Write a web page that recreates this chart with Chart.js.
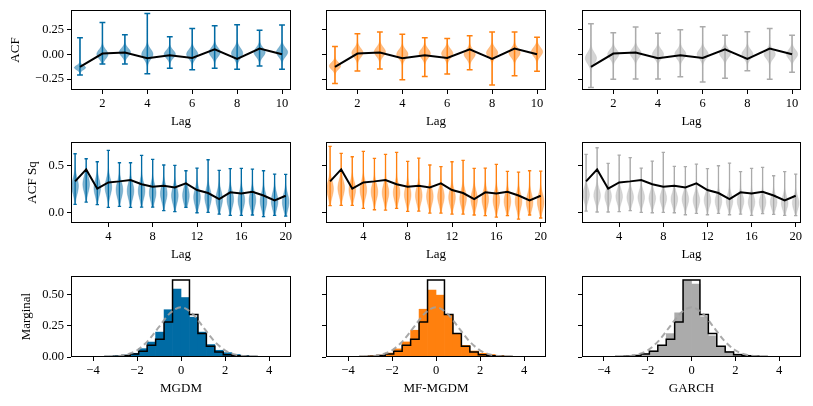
<!DOCTYPE html>
<html><head><meta charset="utf-8">
<script src="https://cdn.jsdelivr.net/npm/chart.js@4.4.1/dist/chart.umd.min.js"></script>
<style>
html,body{margin:0;padding:0;background:#fff;}
body{width:813px;height:406px;position:relative;overflow:hidden;}
canvas{position:absolute;}
</style></head><body>
<script>
// ---------------- DATA ----------------
const models = ['MGDM', 'MF-MGDM', 'GARCH'];
const modelColors = ['#006BA4', '#FF800E', '#ABABAB'];

// Row 1: ACF
const acfLags = [1, 2, 3, 4, 5, 6, 7, 8, 9, 10];
const acfData = [-0.128, 0.007, 0.017, -0.04, -0.01, -0.037, 0.05, -0.047, 0.057, 0.0];
const acfMinMGDM = [-0.21, -0.098, -0.098, -0.196, -0.142, -0.155, -0.142, -0.152, -0.118, -0.152];
const acfMaxMGDM = [0.166, 0.32, 0.196, 0.41, 0.176, 0.26, 0.287, 0.297, 0.24, 0.294];
const acfMidMGDM = [-0.135, 0.0, 0.02, 0.0, 0.0, 0.0, 0.02, 0.01, 0.02, 0.02];
const acfSprMGDM = [0.022, 0.045, 0.04, 0.05, 0.04, 0.045, 0.045, 0.05, 0.045, 0.045];
const acfMinMF = [-0.294, -0.169, -0.149, -0.257, -0.223, -0.2, -0.155, -0.31, -0.216, -0.172];
const acfMaxMF = [0.078, 0.206, 0.223, 0.2, 0.166, 0.159, 0.186, 0.223, 0.223, 0.172];
const acfMidMF = [-0.118, 0.014, 0.024, 0.0, 0.007, 0.007, 0.0, 0.014, 0.014, 0.024];
const acfSprMF = [0.035, 0.045, 0.045, 0.045, 0.045, 0.045, 0.045, 0.045, 0.045, 0.045];
const acfMinGARCH = [-0.334, -0.253, -0.25, -0.25, -0.226, -0.28, -0.243, -0.166, -0.253, -0.182];
const acfMaxGARCH = [0.307, 0.216, 0.274, 0.21, 0.247, 0.277, 0.19, 0.226, 0.26, 0.19];
const acfMidGARCH = [-0.04, 0.0, 0.01, 0.0, 0.0, 0.0, 0.01, 0.0, 0.0, 0.0];
const acfSprGARCH = [0.055, 0.045, 0.045, 0.045, 0.045, 0.045, 0.045, 0.045, 0.045, 0.045];

// Row 2: ACF of squares
const sqLags = [1,2,3,4,5,6,7,8,9,10,11,12,13,14,15,16,17,18,19,20];
const sqData = [0.33, 0.457, 0.252, 0.319, 0.33, 0.344, 0.30, 0.273, 0.284, 0.266, 0.309, 0.238, 0.206, 0.142, 0.213, 0.202, 0.22, 0.18, 0.128, 0.177];
const sqMinMGDM = [0.085, 0.11, 0.082, 0.053, 0.064, 0.053, 0.057, 0.057, 0.018, 0.007, 0.053, -0.004, 0.0, -0.018, -0.032, -0.032, -0.028, -0.046, -0.032, -0.039];
const sqMaxMGDM = [0.624, 0.571, 0.539, 0.66, 0.528, 0.528, 0.606, 0.564, 0.504, 0.5, 0.443, 0.472, 0.56, 0.447, 0.465, 0.468, 0.461, 0.443, 0.408, 0.404];
const sqMidMGDM = [0.28, 0.30, 0.26, 0.27, 0.24, 0.23, 0.23, 0.21, 0.2, 0.18, 0.18, 0.16, 0.16, 0.14, 0.14, 0.13, 0.13, 0.12, 0.12, 0.11];
const sqMinMF = [0.071, 0.074, 0.074, 0.043, 0.028, 0.025, 0.043, 0.011, 0.014, -0.007, -0.007, -0.018, -0.018, -0.028, -0.035, -0.05, -0.035, -0.071, -0.028, -0.06];
const sqMaxMF = [0.702, 0.628, 0.592, 0.649, 0.574, 0.617, 0.638, 0.543, 0.578, 0.504, 0.486, 0.539, 0.553, 0.468, 0.472, 0.51, 0.436, 0.429, 0.443, 0.44];
const sqMidMF = [0.25, 0.26, 0.24, 0.24, 0.22, 0.21, 0.21, 0.19, 0.18, 0.17, 0.17, 0.16, 0.15, 0.14, 0.14, 0.13, 0.12, 0.12, 0.11, 0.11];
const sqMinGARCH = [0.014, 0.004, 0.004, 0.007, 0.018, 0.0, -0.004, 0.0, -0.004, -0.025, -0.011, -0.025, -0.011, -0.025, -0.018, -0.032, -0.014, -0.021, -0.032, -0.035];
const sqMaxGARCH = [0.617, 0.688, 0.521, 0.61, 0.582, 0.472, 0.546, 0.638, 0.489, 0.486, 0.514, 0.465, 0.496, 0.525, 0.433, 0.468, 0.479, 0.39, 0.433, 0.408];
const sqMidGARCH = [0.19, 0.18, 0.17, 0.17, 0.16, 0.16, 0.15, 0.15, 0.14, 0.14, 0.13, 0.13, 0.12, 0.12, 0.12, 0.11, 0.11, 0.11, 0.10, 0.10];
const sqSpread = [0.085, 0.085, 0.07];

// Row 3: marginal histograms (26 bins on [-5, 5])
const histRange = [-5, 5];
const histBins = 26;
const histData  = [0.001,0.001,0.002,0.003,0.004,0.007,0.013,0.024,0.046,0.094,0.142,0.282,0.618,0.618,0.341,0.188,0.086,0.04,0.019,0.011,0.006,0.004,0.003,0.002,0.001,0.001];
const histMGDM  = [0.001,0.002,0.003,0.004,0.006,0.009,0.015,0.03,0.067,0.12,0.2,0.38,0.546,0.478,0.32,0.2,0.1,0.054,0.035,0.02,0.01,0.006,0.004,0.003,0.002,0.001];
const histMF    = [0.001,0.002,0.003,0.004,0.006,0.01,0.015,0.032,0.065,0.121,0.215,0.384,0.538,0.497,0.336,0.19,0.094,0.048,0.03,0.02,0.01,0.006,0.004,0.002,0.001,0.001];
const histGARCH = [0.001,0.002,0.003,0.004,0.006,0.008,0.014,0.028,0.05,0.094,0.188,0.355,0.613,0.586,0.323,0.17,0.086,0.045,0.025,0.014,0.008,0.005,0.003,0.002,0.001,0.001];
const normX = [-5, -4, -3.5, -3, -2.5, -2, -1.5, -1, -0.5, 0, 0.5, 1, 1.5, 2, 2.5, 3, 3.5, 4, 5];
const normY = [0, 0, 0.001, 0.0045, 0.018, 0.054, 0.13, 0.242, 0.352, 0.40, 0.352, 0.242, 0.13, 0.054, 0.018, 0.0045, 0.001, 0, 0];

// Ticks
const acfXTicks = [2, 4, 6, 8, 10];
const acfYTicks = [-0.25, 0, 0.25];
const acfYTickLabels = ['\u22120.25', '0.00', '0.25'];
const sqXTicks = [4, 8, 12, 16, 20];
const sqYTicks = [0, 0.5];
const sqYTickLabels = ['0.0', '0.5'];
const margXTicks = [-4, -2, 0, 2, 4];
const margXTickLabels = ['\u22124', '\u22122', '0', '2', '4'];
const margYTicks = [0, 0.25, 0.5];
const margYTickLabels = ['0.00', '0.25', '0.50'];

// tables built from the arrays
const acfMin = [acfMinMGDM, acfMinMF, acfMinGARCH];
const acfMax = [acfMaxMGDM, acfMaxMF, acfMaxGARCH];
const acfMid = [acfMidMGDM, acfMidMF, acfMidGARCH];
const acfSpr = [acfSprMGDM, acfSprMF, acfSprGARCH];
const sqMin = [sqMinMGDM, sqMinMF, sqMinGARCH];
const sqMax = [sqMaxMGDM, sqMaxMF, sqMaxGARCH];
const sqMid = [sqMidMGDM, sqMidMF, sqMidGARCH];
const histModel = [histMGDM, histMF, histGARCH];

// ---------------- LAYOUT ----------------
const AX_LEFT = [71, 326, 582], AX_W = [220, 220, 219];
const AX_TOP = [10, 142, 276], AX_H = [80, 81, 81];
const L = 71, R = 12, T = 8, B = 44;
const yTitlePad = [8, 25, 19];
const TICK_FONT = 12.5, TITLE_FONT = 13;

Chart.defaults.font.family = "'Liberation Serif','DejaVu Serif',serif";
Chart.defaults.color = '#000';

function rgba(hex, a) {
  const n = parseInt(hex.slice(1), 16);
  return `rgba(${(n >> 16) & 255},${(n >> 8) & 255},${n & 255},${a})`;
}

const boxPlugin = {
  id: 'box',
  afterDraw(chart) {
    const { ctx, chartArea: a } = chart;
    ctx.save();
    ctx.strokeStyle = '#000';
    ctx.lineWidth = 1;
    ctx.strokeRect(a.left + 0.5, a.top + 0.5, a.width - 1, a.height - 1);
    ctx.restore();
  }
};

function violinPlugin(v) {
  return {
    id: 'violin',
    beforeDatasetsDraw(chart) {
      const { ctx, chartArea: a } = chart;
      const xs = chart.scales.x, ys = chart.scales.y;
      ctx.save();
      ctx.beginPath(); ctx.rect(a.left, a.top, a.width, a.height); ctx.clip();
      v.lags.forEach((lag, i) => {
        const lo = v.mins[i], hi = v.maxs[i], c = v.mids[i], s = v.sprs[i];
        const N = 90;
        ctx.beginPath();
        for (let j = 0; j <= N; j++) {
          const val = lo + (hi - lo) * j / N;
          const w = v.halfWidth * Math.exp(-0.5 * Math.pow((val - c) / s, 2));
          const px = xs.getPixelForValue(lag + w), py = ys.getPixelForValue(val);
          if (j === 0) ctx.moveTo(px, py); else ctx.lineTo(px, py);
        }
        for (let j = N; j >= 0; j--) {
          const val = lo + (hi - lo) * j / N;
          const w = v.halfWidth * Math.exp(-0.5 * Math.pow((val - c) / s, 2));
          ctx.lineTo(xs.getPixelForValue(lag - w), ys.getPixelForValue(val));
        }
        ctx.closePath();
        ctx.fillStyle = rgba(v.color, 0.5);
        ctx.fill();
        ctx.strokeStyle = rgba(v.color, 0.35);
        ctx.lineWidth = 0.8;
        ctx.stroke();
        // whiskers
        const x0 = xs.getPixelForValue(lag);
        const yl = ys.getPixelForValue(lo), yh = ys.getPixelForValue(hi);
        const xl = xs.getPixelForValue(lag - v.capHalf), xr = xs.getPixelForValue(lag + v.capHalf);
        ctx.strokeStyle = v.color;
        ctx.lineWidth = v.lw;
        ctx.beginPath();
        ctx.moveTo(x0, yl); ctx.lineTo(x0, yh);
        ctx.moveTo(xl, yl); ctx.lineTo(xr, yl);
        ctx.moveTo(xl, yh); ctx.lineTo(xr, yh);
        ctx.stroke();
      });
      ctx.restore();
    }
  };
}

function makeCanvas(r, c) {
  const cv = document.createElement('canvas');
  const w = L + AX_W[c] + R, h = T + AX_H[r] + B;
  cv.width = w; cv.height = h;
  cv.style.left = (AX_LEFT[c] - L) + 'px';
  cv.style.top = (AX_TOP[r] - T) + 'px';
  cv.style.width = w + 'px'; cv.style.height = h + 'px';
  document.body.appendChild(cv);
  return cv;
}

function scalesFor(r, c, o) {
  return {
    x: {
      type: 'linear', min: o.xMin, max: o.xMax, offset: false,
      afterBuildTicks: s => { s.ticks = o.xTicks.map(v => ({ value: v })); },
      afterFit: s => { s.height = B; s.paddingLeft = 0; s.paddingRight = 0; },
      ticks: { callback: (v, i) => o.xLabels[i], maxRotation: 0, minRotation: 0, autoSkip: false, padding: 2, font: { size: TICK_FONT } },
      grid: { display: true, drawOnChartArea: false, drawTicks: true, tickLength: 4, tickColor: '#000', tickWidth: 1, offset: false },
      border: { display: false },
      title: { display: true, text: o.xTitle, font: { size: TITLE_FONT }, padding: { top: 0, bottom: 5 } }
    },
    y: {
      type: 'linear', min: o.yMin, max: o.yMax,
      afterBuildTicks: s => { s.ticks = o.yTicks.map(v => ({ value: v })); },
      afterFit: s => { s.width = L; s.paddingTop = 0; s.paddingBottom = 0; },
      ticks: { callback: (v, i) => (c === 0 ? o.yLabels[i] : ''), padding: 3, font: { size: TICK_FONT } },
      grid: { display: true, drawOnChartArea: false, drawTicks: true, tickLength: 4, tickColor: '#000', tickWidth: 1 },
      border: { display: false },
      title: { display: c === 0, text: o.yTitle, font: { size: TITLE_FONT }, padding: { top: yTitlePad[r], bottom: 0 } }
    }
  };
}

function baseOptions(r, c, o) {
  return {
    responsive: false, animation: false,
    layout: { padding: { left: 0, right: R, top: T, bottom: 0 } },
    plugins: { legend: { display: false }, tooltip: { enabled: false } },
    scales: scalesFor(r, c, o)
  };
}

for (let c = 0; c < 3; c++) {
  // Row 1
  new Chart(makeCanvas(0, c), {
    type: 'line',
    data: { datasets: [{ data: acfLags.map((l, i) => ({ x: l, y: acfData[i] })), borderColor: '#000', borderWidth: 2, pointRadius: 0, tension: 0 }] },
    options: baseOptions(0, c, { xMin: 0.6, xMax: 10.4, xTicks: acfXTicks, xLabels: acfXTicks.map(String), xTitle: 'Lag',
      yMin: -0.36, yMax: 0.445, yTicks: acfYTicks, yLabels: acfYTickLabels, yTitle: 'ACF' }),
    plugins: [violinPlugin({ lags: acfLags, mins: acfMin[c], maxs: acfMax[c], mids: acfMid[c], sprs: acfSpr[c],
      color: modelColors[c], halfWidth: 0.25, capHalf: 0.13, lw: 1.5 }), boxPlugin]
  });
  // Row 2
  new Chart(makeCanvas(1, c), {
    type: 'line',
    data: { datasets: [{ data: sqLags.map((l, i) => ({ x: l, y: sqData[i] })), borderColor: '#000', borderWidth: 2, pointRadius: 0, tension: 0 }] },
    options: baseOptions(1, c, { xMin: 0.63, xMax: 20.48, xTicks: sqXTicks, xLabels: sqXTicks.map(String), xTitle: 'Lag',
      yMin: -0.113, yMax: 0.749, yTicks: sqYTicks, yLabels: sqYTickLabels, yTitle: 'ACF Sq' }),
    plugins: [violinPlugin({ lags: sqLags, mins: sqMin[c], maxs: sqMax[c], mids: sqMid[c], sprs: sqLags.map(() => sqSpread[c]),
      color: modelColors[c], halfWidth: 0.3, capHalf: 0.15, lw: 1.3 }), boxPlugin]
  });
  // Row 3
  const bw = (histRange[1] - histRange[0]) / histBins;
  const centers = [], edges = [];
  for (let k = 0; k < histBins; k++) { edges.push(histRange[0] + k * bw); centers.push(histRange[0] + (k + 0.5) * bw); }
  const stepPts = [{ x: histRange[0], y: 0 }].concat(edges.map((e, k) => ({ x: e, y: histData[k] })))
    .concat([{ x: histRange[1], y: histData[histBins - 1] }, { x: histRange[1], y: 0 }]);
  new Chart(makeCanvas(2, c), {
    type: 'bar',
    data: { datasets: [
      { type: 'line', data: normX.map((x, i) => ({ x, y: normY[i] })), borderColor: 'rgba(160,160,160,0.9)', borderWidth: 2,
        borderDash: [6, 3.5], pointRadius: 0, cubicInterpolationMode: 'monotone', order: 0 },
      { type: 'line', data: stepPts, stepped: 'before', borderColor: '#000', borderWidth: 1.5, pointRadius: 0, order: 1 },
      { type: 'bar', data: centers.map((x, k) => ({ x, y: histModel[c][k] })), backgroundColor: modelColors[c],
        borderWidth: 0, barPercentage: 1, categoryPercentage: 1, order: 2 }
    ] },
    options: baseOptions(2, c, { xMin: -5, xMax: 5, xTicks: margXTicks, xLabels: margXTickLabels, xTitle: models[c],
      yMin: 0, yMax: 0.651, yTicks: margYTicks, yLabels: margYTickLabels, yTitle: 'Marginal' }),
    plugins: [boxPlugin]
  });
}
</script>
</body></html>
